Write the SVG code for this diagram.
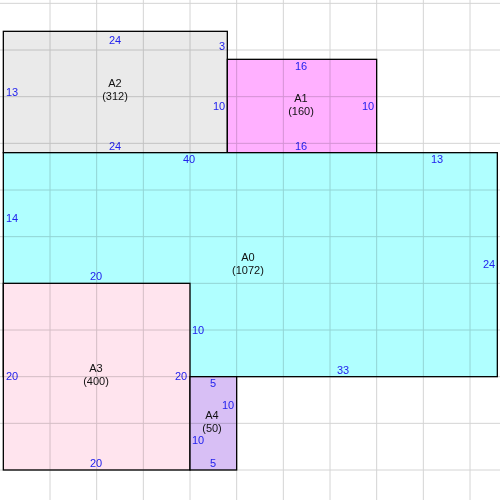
<svg xmlns="http://www.w3.org/2000/svg" width="500" height="500" viewBox="0 0 500 500">
<style>
.box{stroke:#000;stroke-width:1.3}
.dim{font-family:"Liberation Sans",Arial,sans-serif;font-size:11px;fill:#2222ee;text-anchor:middle}
.nm{font-family:"Liberation Sans",Arial,sans-serif;font-size:11px;fill:#111;text-anchor:middle}
.grid line{stroke:rgb(212,212,212);stroke-width:1}
</style>
<rect x="0" y="0" width="500" height="500" fill="#fff"/>
<g id="nodes">
<g id="A2">
<rect class="box" x="3.33" y="31.33" width="224" height="121.33" fill="#eaeaea"/>
<text class="dim" x="115" y="44">24</text>
<text class="dim" x="222" y="50">3</text>
<text class="dim" x="12" y="96">13</text>
<text class="dim" x="219" y="110">10</text>
<text class="dim" x="115" y="150">24</text>
<text class="nm" x="115" y="87">A2</text>
<text class="nm" x="115" y="100">(312)</text>
</g>
<g id="A1">
<rect class="box" x="227.33" y="59.33" width="149.33" height="93.33" fill="#ffb0ff"/>
<text class="dim" x="301" y="70">16</text>
<text class="dim" x="368" y="110">10</text>
<text class="dim" x="301" y="150">16</text>
<text class="nm" x="301" y="102">A1</text>
<text class="nm" x="301" y="115">(160)</text>
</g>
<g id="A0">
<rect class="box" x="3.33" y="152.67" width="494" height="224" fill="#b0ffff"/>
<text class="dim" x="189" y="163">40</text>
<text class="dim" x="437" y="163">13</text>
<text class="dim" x="12" y="222">14</text>
<text class="dim" x="489" y="268">24</text>
<text class="dim" x="96" y="280">20</text>
<text class="dim" x="198" y="334">10</text>
<text class="dim" x="343" y="374">33</text>
<text class="nm" x="248" y="261">A0</text>
<text class="nm" x="248" y="274">(1072)</text>
</g>
<g id="A3">
<rect class="box" x="3.33" y="283.33" width="186.67" height="186.67" fill="#ffe4ee"/>
<text class="dim" x="12" y="380">20</text>
<text class="dim" x="181" y="380">20</text>
<text class="dim" x="96" y="467">20</text>
<text class="nm" x="96" y="372">A3</text>
<text class="nm" x="96" y="385">(400)</text>
</g>
<g id="A4">
<rect class="box" x="190" y="376.67" width="46.67" height="93.33" fill="#d8bff5"/>
<text class="dim" x="213" y="387">5</text>
<text class="dim" x="228" y="409">10</text>
<text class="dim" x="198" y="444">10</text>
<text class="dim" x="213" y="467">5</text>
<text class="nm" x="212" y="419">A4</text>
<text class="nm" x="212" y="432">(50)</text>
</g>
</g>
<g id="connectors"></g>
<g class="grid" style="mix-blend-mode:multiply">
<line x1="50" y1="0" x2="50" y2="500"/>
<line x1="96.67" y1="0" x2="96.67" y2="500"/>
<line x1="143.33" y1="0" x2="143.33" y2="500"/>
<line x1="190" y1="0" x2="190" y2="500"/>
<line x1="236.67" y1="0" x2="236.67" y2="500"/>
<line x1="283.33" y1="0" x2="283.33" y2="500"/>
<line x1="330" y1="0" x2="330" y2="500"/>
<line x1="376.67" y1="0" x2="376.67" y2="500"/>
<line x1="423.33" y1="0" x2="423.33" y2="500"/>
<line x1="470" y1="0" x2="470" y2="500"/>
<line x1="0" y1="3.33" x2="500" y2="3.33"/>
<line x1="0" y1="50" x2="500" y2="50"/>
<line x1="0" y1="96.67" x2="500" y2="96.67"/>
<line x1="0" y1="143.33" x2="500" y2="143.33"/>
<line x1="0" y1="190" x2="500" y2="190"/>
<line x1="0" y1="236.67" x2="500" y2="236.67"/>
<line x1="0" y1="283.33" x2="500" y2="283.33"/>
<line x1="0" y1="330" x2="500" y2="330"/>
<line x1="0" y1="376.67" x2="500" y2="376.67"/>
<line x1="0" y1="423.33" x2="500" y2="423.33"/>
<line x1="0" y1="470" x2="500" y2="470"/>
</g>
</svg>
